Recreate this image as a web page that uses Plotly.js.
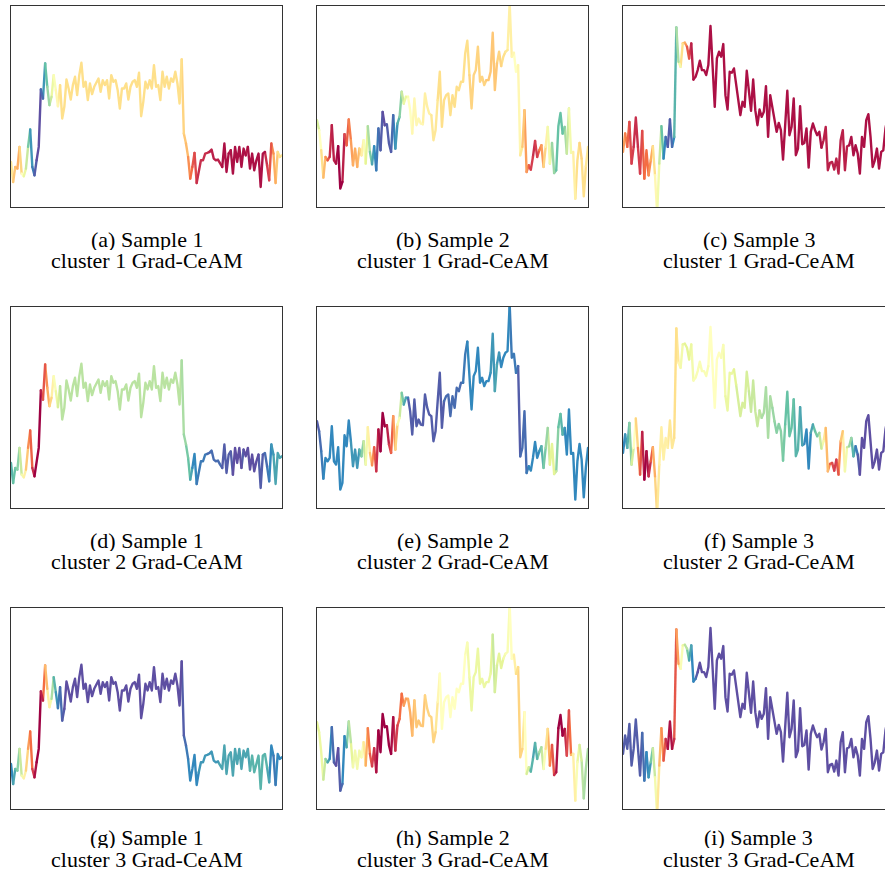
<!DOCTYPE html>
<html><head><meta charset="utf-8">
<script src="https://cdn.plot.ly/plotly-3.0.1.min.js"></script>
<style>
html,body{margin:0;padding:0;overflow:hidden;background:#fff;}
#chart{width:895px;height:873px;}
.scatterlayer .js-line{stroke-linecap:round;stroke-linejoin:round;}
</style></head><body><div id="chart"></div>
<script>
// ---- series values (one per sample) ----
const series1 = [
1.35,0.75,1.20,1.15,1.80,1.00,0.92,1.15,1.80,2.32,
1.20,0.95,1.40,1.80,3.52,3.25,4.30,3.60,3.05,3.30,
3.95,3.50,3.02,3.65,2.65,3.00,3.82,3.55,3.22,3.65,
3.90,3.35,3.95,4.32,3.60,3.75,3.20,3.70,3.38,3.60,
3.75,3.85,3.45,3.80,3.65,3.80,3.25,3.95,3.75,3.80,
3.50,2.95,3.55,3.55,3.70,3.22,3.60,3.75,3.80,3.60,
4.02,2.72,3.15,3.75,3.55,3.80,3.55,4.25,3.60,3.65,
3.20,4.05,3.60,3.90,3.55,3.85,3.75,4.05,3.70,3.10,
4.42,2.20,1.90,1.50,0.85,1.20,1.62,0.72,1.10,1.40,
1.40,1.60,1.62,1.65,1.72,1.45,1.40,1.42,1.30,1.20,
1.90,1.05,1.60,1.70,1.00,1.80,1.35,1.80,1.20,1.75,
1.55,1.80,1.15,1.60,1.10,1.40,1.60,0.60,1.60,1.65,
1.25,0.80,1.90,1.60,0.72,1.65,1.50,1.55];
const series2 = [
2.60,2.30,1.70,0.88,1.50,1.40,1.50,2.45,1.40,1.30,
1.82,0.55,0.75,2.18,1.85,2.62,2.00,1.25,1.75,1.20,
1.75,1.55,2.00,1.30,2.42,1.65,1.28,1.82,1.10,2.35,
1.70,2.85,2.45,2.48,1.90,1.65,2.75,1.75,2.50,2.70,
3.45,3.10,3.30,3.30,2.90,2.20,3.25,2.45,2.65,2.50,
2.48,3.40,3.02,2.80,2.75,2.00,2.30,3.20,4.05,2.40,
3.20,3.35,3.40,2.75,3.35,3.00,3.60,3.50,3.75,3.75,
4.60,4.98,3.95,2.95,3.95,4.10,4.80,3.75,3.90,3.65,
3.80,3.80,4.05,5.22,3.50,4.30,4.65,4.22,4.50,4.65,
4.70,6.10,4.50,4.62,4.05,4.25,1.55,1.80,2.90,1.05,
1.25,1.12,1.50,1.98,1.50,1.70,1.85,1.20,1.80,2.40,
1.30,1.92,1.02,1.10,2.42,2.82,2.20,2.40,1.60,2.95,
1.62,1.65,0.25,1.40,1.92,1.45,0.32,1.22,1.80];
const series3 = [
1.65,2.20,1.80,2.55,1.30,1.80,2.68,1.80,1.00,2.28,
0.85,1.70,0.95,1.40,1.82,0.95,-0.20,1.30,2.42,1.45,
2.10,1.80,2.62,1.80,2.10,5.38,4.35,4.20,4.90,4.92,
4.80,4.45,4.90,3.82,3.90,4.10,4.38,4.10,4.10,3.95,
4.25,5.42,4.20,3.00,4.45,4.65,4.50,4.88,3.35,2.92,
4.05,4.02,4.15,3.70,3.20,2.75,3.15,3.00,4.08,3.50,
2.88,3.82,2.90,2.45,2.92,2.70,2.85,3.62,2.10,3.35,
3.00,2.60,2.25,2.52,2.30,1.42,2.50,3.48,2.15,2.40,
3.25,1.55,1.75,3.02,1.88,1.92,2.35,1.18,2.25,2.50,
2.30,2.15,2.25,1.78,2.00,2.40,1.10,1.32,1.35,1.12,
1.45,1.00,2.00,2.30,1.10,1.82,1.85,2.10,1.55,1.85,
1.60,1.00,2.10,1.80,2.60,2.78,2.10,1.20,1.40,1.75,
1.15,1.65,1.70,2.35,2.70,2.10,2.40,1.90];

// ---- Grad-CeAM colour values (0 = dark red ... 1 = purple, Spectral) ----
const camA = [
0.45,0.38,0.33,0.32,0.30,0.45,0.55,0.60,0.70,0.85,
0.90,0.97,1.00,1.00,0.98,0.92,0.85,0.75,0.70,0.62,
0.55,0.50,0.45,0.42,0.39,0.39,0.39,0.39,0.39,0.39,
0.39,0.39,0.39,0.39,0.39,0.39,0.39,0.39,0.39,0.39,
0.39,0.39,0.39,0.39,0.39,0.39,0.39,0.39,0.39,0.39,
0.39,0.39,0.39,0.39,0.39,0.39,0.39,0.39,0.39,0.39,
0.39,0.39,0.39,0.39,0.39,0.39,0.39,0.39,0.39,0.39,
0.39,0.39,0.39,0.39,0.39,0.39,0.39,0.39,0.39,0.39,
0.39,0.37,0.33,0.30,0.22,0.17,0.13,0.10,0.07,0.07,
0.07,0.07,0.07,0.06,0.06,0.06,0.06,0.06,0.06,0.02,
0.04,0.02,0.03,0.05,0.02,0.03,0.02,0.04,0.02,0.02,
0.05,0.03,0.02,0.02,0.03,0.02,0.02,0.04,0.02,0.05,
0.08,0.12,0.20,0.28,0.33,0.38,0.42,0.44];
const camD = [
0.85,0.82,0.78,0.78,0.70,0.60,0.50,0.42,0.30,0.22,
0.12,0.02,0.00,0.00,0.02,0.08,0.20,0.28,0.33,0.42,
0.50,0.55,0.60,0.65,0.68,0.68,0.68,0.68,0.68,0.68,
0.68,0.68,0.68,0.68,0.68,0.68,0.68,0.68,0.68,0.68,
0.68,0.68,0.68,0.68,0.68,0.68,0.68,0.68,0.68,0.68,
0.68,0.68,0.68,0.68,0.68,0.68,0.68,0.68,0.68,0.68,
0.68,0.68,0.68,0.68,0.68,0.68,0.68,0.68,0.68,0.68,
0.68,0.68,0.68,0.68,0.68,0.68,0.68,0.68,0.68,0.68,
0.68,0.72,0.75,0.78,0.82,0.88,0.90,0.90,0.93,0.93,
0.93,0.93,0.94,0.94,0.95,0.95,0.95,0.95,0.95,0.97,
0.97,0.98,0.98,0.98,0.99,0.99,1.00,1.00,0.98,0.99,
1.00,1.00,0.99,0.99,1.00,1.00,0.99,0.98,0.97,0.95,
0.95,0.90,0.88,0.86,0.85,0.85,0.85,0.85];
const camG = [
0.90,0.88,0.80,0.80,0.72,0.58,0.50,0.42,0.32,0.25,
0.15,0.05,0.00,0.00,0.02,0.10,0.28,0.38,0.50,0.62,
0.80,0.85,0.90,0.93,0.96,0.99,0.99,0.99,0.99,0.99,
0.99,0.99,0.99,0.99,0.99,0.99,0.99,0.99,0.99,0.99,
0.99,0.99,0.99,0.99,0.99,0.99,0.99,0.99,0.99,0.99,
0.99,0.99,0.99,0.99,0.99,0.99,0.99,0.99,0.99,0.99,
0.99,0.99,0.99,0.99,0.99,0.99,0.99,0.99,0.99,0.99,
0.99,0.99,0.99,0.99,0.99,0.99,0.99,0.99,0.99,0.99,
0.99,0.96,0.94,0.92,0.90,0.90,0.90,0.90,0.88,0.87,
0.87,0.87,0.87,0.87,0.87,0.87,0.87,0.87,0.84,0.84,
0.84,0.84,0.84,0.84,0.84,0.84,0.84,0.84,0.84,0.84,
0.84,0.84,0.84,0.82,0.82,0.82,0.82,0.82,0.82,0.82,
0.84,0.88,0.90,0.92,0.92,0.90,0.90,0.90];
const camB = [
0.72,0.55,0.47,0.35,0.28,0.20,0.12,0.05,0.05,0.03,
0.02,0.00,0.02,0.08,0.15,0.20,0.25,0.28,0.30,0.32,
0.35,0.40,0.48,0.55,0.65,0.75,0.82,0.88,0.90,0.93,
0.96,1.00,0.98,0.98,0.98,0.96,0.92,0.90,0.85,0.80,
0.70,0.62,0.55,0.50,0.50,0.49,0.48,0.48,0.47,0.47,
0.47,0.45,0.45,0.44,0.44,0.43,0.42,0.41,0.40,0.40,
0.40,0.40,0.40,0.40,0.40,0.40,0.40,0.40,0.40,0.40,
0.39,0.39,0.39,0.38,0.38,0.38,0.38,0.38,0.37,0.37,
0.36,0.36,0.35,0.35,0.35,0.36,0.37,0.38,0.40,0.42,0.44,
0.45,0.47,0.50,0.50,0.50,0.45,0.38,0.32,0.22,0.15,
0.10,0.08,0.08,0.12,0.18,0.25,0.32,0.42,0.50,0.60,
0.68,0.75,0.80,0.80,0.80,0.78,0.72,0.68,0.60,0.52,
0.47,0.42,0.40,0.38,0.38,0.40,0.42,0.45];
const camE = [
1.00,0.95,0.95,0.90,0.90,0.90,0.90,0.90,0.90,0.90,
0.90,0.90,0.90,0.90,0.90,0.90,0.88,0.88,0.88,0.88,
0.85,0.80,0.70,0.60,0.52,0.40,0.30,0.20,0.10,0.05,
0.02,0.00,0.00,0.03,0.08,0.12,0.22,0.32,0.45,0.58,
0.72,0.82,0.90,0.95,0.98,0.98,0.98,0.98,0.98,0.98,
0.98,0.98,0.98,0.98,0.98,0.98,0.98,0.98,0.98,0.98,
0.96,0.96,0.95,0.95,0.95,0.95,0.95,0.95,0.94,0.94,
0.93,0.92,0.90,0.90,0.90,0.90,0.90,0.90,0.90,0.90,
0.90,0.90,0.89,0.88,0.85,0.87,0.90,0.90,0.90,0.90,0.90,
0.90,0.93,0.93,0.93,0.97,0.97,0.95,0.95,0.95,0.92,
0.90,0.90,0.90,0.90,0.88,0.85,0.82,0.75,0.70,0.62,
0.60,0.62,0.70,0.78,0.82,0.85,0.88,0.90,0.90,0.90,
0.90,0.90,0.90,0.90,0.90,0.90,0.90,0.90];
const camH = [
0.60,0.58,0.57,0.60,0.72,0.80,0.88,0.92,0.97,1.00,
0.98,0.96,0.92,0.88,0.80,0.72,0.62,0.57,0.55,0.55,
0.55,0.55,0.48,0.35,0.25,0.20,0.12,0.08,0.05,0.00,
0.00,0.00,0.00,0.00,0.00,0.02,0.05,0.08,0.12,0.18,
0.22,0.25,0.28,0.30,0.30,0.30,0.33,0.35,0.35,0.35,
0.35,0.35,0.38,0.38,0.38,0.38,0.38,0.45,0.50,0.50,
0.50,0.50,0.50,0.50,0.50,0.50,0.50,0.50,0.50,0.50,
0.50,0.55,0.57,0.57,0.57,0.57,0.57,0.57,0.57,0.57,
0.57,0.57,0.57,0.65,0.67,0.60,0.60,0.60,0.60,0.52,0.52,
0.52,0.47,0.47,0.42,0.38,0.37,0.40,0.45,0.55,0.70,
0.80,0.85,0.85,0.78,0.72,0.70,0.62,0.45,0.35,0.25,
0.18,0.12,0.05,0.00,0.00,0.02,0.05,0.08,0.15,0.25,
0.40,0.50,0.55,0.60,0.65,0.70,0.70,0.70];
const camC = [
0.30,0.25,0.20,0.15,0.10,0.08,0.07,0.10,0.12,0.15,
0.18,0.20,0.22,0.27,0.35,0.45,0.50,0.58,0.70,0.88,
0.92,0.96,0.98,0.94,0.88,0.78,0.60,0.50,0.32,0.28,
0.20,0.12,0.06,0.03,0.03,0.03,0.03,0.03,0.03,0.03,
0.03,0.03,0.03,0.03,0.03,0.03,0.03,0.03,0.03,0.03,
0.03,0.03,0.03,0.03,0.03,0.03,0.03,0.03,0.03,0.03,
0.03,0.03,0.03,0.03,0.03,0.03,0.03,0.03,0.03,0.03,
0.03,0.03,0.03,0.03,0.03,0.03,0.03,0.03,0.03,0.03,
0.03,0.03,0.03,0.03,0.03,0.03,0.03,0.03,0.03,0.03,
0.03,0.03,0.03,0.03,0.06,0.06,0.06,0.06,0.06,0.06,
0.06,0.06,0.06,0.06,0.06,0.06,0.03,0.03,0.03,0.03,
0.03,0.03,0.03,0.03,0.03,0.03,0.03,0.03,0.03,0.03,
0.03,0.03,0.03,0.03,0.03,0.03,0.03,0.03];
const camF = [
0.90,0.88,0.85,0.80,0.70,0.55,0.45,0.30,0.20,0.10,
0.02,0.00,0.03,0.12,0.25,0.35,0.42,0.45,0.45,0.45,
0.45,0.45,0.42,0.42,0.42,0.40,0.45,0.52,0.57,0.60,
0.60,0.58,0.56,0.52,0.52,0.52,0.52,0.52,0.52,0.52,
0.51,0.50,0.50,0.50,0.50,0.50,0.50,0.53,0.57,0.57,
0.57,0.57,0.57,0.62,0.62,0.62,0.62,0.62,0.62,0.65,
0.65,0.65,0.65,0.65,0.65,0.70,0.70,0.70,0.70,0.70,
0.70,0.75,0.75,0.75,0.75,0.75,0.78,0.80,0.80,0.80,
0.80,0.83,0.83,0.83,0.88,0.90,0.90,0.90,0.88,0.82,
0.78,0.75,0.68,0.62,0.48,0.38,0.28,0.20,0.15,0.10,
0.12,0.20,0.30,0.42,0.50,0.60,0.68,0.78,0.85,0.90,
0.95,0.98,1.00,1.00,1.00,1.00,1.00,1.00,1.00,1.00,
1.00,1.00,1.00,1.00,1.00,1.00,1.00,1.00];
const camI = [
0.98,0.98,0.98,0.98,0.98,0.98,0.98,0.98,0.97,0.96,
0.95,0.90,0.90,0.85,0.72,0.60,0.50,0.35,0.30,0.20,
0.10,0.05,0.00,0.05,0.10,0.20,0.35,0.50,0.55,0.60,
0.75,0.82,0.90,0.92,0.95,0.99,0.99,0.99,0.99,0.99,
0.99,0.99,0.99,0.99,0.99,0.99,0.99,0.99,0.99,0.99,
0.99,0.99,0.99,0.99,0.99,0.99,0.99,0.99,0.99,0.99,
0.99,0.99,0.99,0.99,0.99,0.99,0.99,0.99,0.99,0.99,
0.99,0.99,0.99,0.99,0.99,0.99,0.99,0.99,0.99,0.99,
0.99,0.99,0.99,0.99,0.99,0.99,0.99,0.99,0.99,0.99,
0.99,0.99,0.99,0.99,0.99,0.99,0.99,0.99,0.99,0.99,
0.99,0.99,0.99,0.99,0.99,0.99,0.99,0.99,0.99,0.99,
0.99,0.99,0.99,0.99,0.99,0.99,0.99,0.99,0.99,0.99,
0.99,0.99,0.99,0.99,0.99,0.99,0.99,0.99];

// ---- labels ----
const panelLetters = ['a','b','c','d','e','f','g','h','i'];
const sampleLabels = ['Sample 1','Sample 2','Sample 3'];
const clusterLabels = ['cluster 1 Grad-CeAM','cluster 2 Grad-CeAM','cluster 3 Grad-CeAM'];

const samples = [series1, series2, series3];
const cams = [[camA, camB, camC],[camD, camE, camF],[camG, camH, camI]];

// Spectral colormap
const spectral = ['#9e0142','#d53e4f','#f46d43','#fdae61','#fee08b','#ffffbf','#e6f598','#abdda4','#66c2a5','#3288bd','#5e4fa2'];
function hex2rgb(h){return [parseInt(h.substr(1,2),16),parseInt(h.substr(3,2),16),parseInt(h.substr(5,2),16)];}
const spectralRGB = spectral.map(hex2rgb);
function cmap(t){
  t = Math.max(0, Math.min(1, t));
  const p = t*10, k = Math.min(9, Math.floor(p)), f = p - k;
  const a = spectralRGB[k], b = spectralRGB[k+1];
  return 'rgb(' + [0,1,2].map(j => Math.round(a[j] + (b[j]-a[j])*f)).join(',') + ')';
}

// ---- layout geometry (pixels) ----
const W = 895, H = 873;
const colLeft = [11, 317, 623], panelW = 271;
const rowTop = [6, 307, 608], panelH = 201;
const capLine1 = [239, 540, 837.5], capGap = 21.5;
const yRange = [0, 6.02];
const capFont = {family: 'Liberation Serif, Times New Roman, serif', size: 22, color: '#000'};

const traces = [];
const layout = {
  width: W, height: H,
  margin: {l:0, r:0, t:0, b:0},
  paper_bgcolor: '#fff', plot_bgcolor: '#fff',
  showlegend: false,
  annotations: []
};

for (let r = 0; r < 3; r++) {
  for (let c = 0; c < 3; c++) {
    const k = r*3 + c + 1;
    const ys = samples[c], cs = cams[r][c];
    const xName = k === 1 ? 'x' : 'x' + k, yName = k === 1 ? 'y' : 'y' + k;
    const groups = new Map();
    for (let i = 0; i < ys.length - 1; i++) {
      const q = Math.round(((cs[i] + cs[i+1]) / 2) * 40) / 40;
      let g = groups.get(q);
      if (!g) { g = {x: [], y: [], last: -5}; groups.set(q, g); }
      if (g.last === i - 1) { g.x.push(i + 1); g.y.push(ys[i + 1]); }
      else {
        if (g.x.length) { g.x.push(null); g.y.push(null); }
        g.x.push(i, i + 1); g.y.push(ys[i], ys[i + 1]);
      }
      g.last = i;
    }
    groups.forEach((g, q) => {
      traces.push({type: 'scatter', mode: 'lines', x: g.x, y: g.y,
        xaxis: xName, yaxis: yName, hoverinfo: 'skip', connectgaps: false,
        line: {color: cmap(q), width: 2.4}});
    });
    const axCommon = {showgrid: false, zeroline: false, showticklabels: false, ticks: '',
      showline: true, mirror: true, linecolor: '#333', linewidth: 1, fixedrange: true};
    layout[k === 1 ? 'xaxis' : 'xaxis' + k] = Object.assign({}, axCommon, {
      domain: [colLeft[c] / W, (colLeft[c] + panelW) / W], range: [0, ys.length - 1],
      anchor: yName});
    layout[k === 1 ? 'yaxis' : 'yaxis' + k] = Object.assign({}, axCommon, {
      domain: [1 - (rowTop[r] + panelH) / H, 1 - rowTop[r] / H], range: yRange,
      anchor: xName});
    const cx = (colLeft[c] + panelW / 2) / W;
    layout.annotations.push({xref: 'paper', yref: 'paper', x: cx, y: 1 - capLine1[r] / H,
      xanchor: 'center', yanchor: 'middle', showarrow: false, height: 21, valign: 'middle',
      text: '(' + panelLetters[k - 1] + ') ' + sampleLabels[c], font: capFont});
    layout.annotations.push({xref: 'paper', yref: 'paper', x: cx, y: 1 - (capLine1[r] + capGap) / H,
      xanchor: 'center', yanchor: 'middle', showarrow: false, height: 21, valign: 'middle',
      text: clusterLabels[r], font: capFont});
  }
}

Plotly.newPlot('chart', traces, layout, {displayModeBar: false, staticPlot: true});
</script></body></html>
